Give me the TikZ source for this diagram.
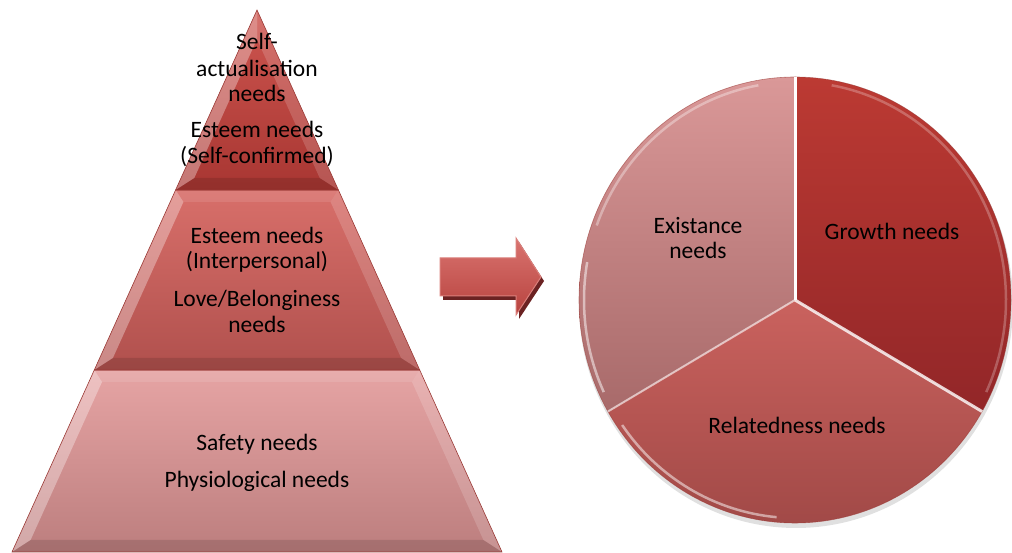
\documentclass[tikz,border=0pt]{standalone}
\usepackage{fontspec}
\setmainfont{Carlito}
\usetikzlibrary{calc}
\definecolor{tA}{HTML}{CE5650}
\definecolor{tB}{HTML}{A83632}
\definecolor{mA}{HTML}{D86F6A}
\definecolor{mB}{HTML}{B0504D}
\definecolor{bA}{HTML}{E6A4A4}
\definecolor{bB}{HTML}{BC7E7E}
\definecolor{eA}{HTML}{DA9898}
\definecolor{eB}{HTML}{A86A6A}
\definecolor{gA}{HTML}{BC3A33}
\definecolor{gB}{HTML}{922628}
\definecolor{rA}{HTML}{CA625E}
\definecolor{rB}{HTML}{9C4644}
\definecolor{arA}{HTML}{D9736F}
\definecolor{arB}{HTML}{B8433F}
\definecolor{arL}{HTML}{DA7F7B}
\definecolor{arS}{HTML}{6B2222}
\definecolor{edge}{HTML}{9A3A36}
\begin{document}
\begin{tikzpicture}[x=1pt,y=1pt,
  lbl/.style={anchor=base, inner sep=0pt, font=\fontsize{23.5}{27}\selectfont, text=black},
  hiL/.style={fill=white, fill opacity=0.33},
  hiR/.style={fill=white, fill opacity=0.16},
  hiT/.style={fill=white, fill opacity=0.10},
  loB/.style={fill=black, fill opacity=0.12},
  rim/.style={draw=edge, line width=0.6pt},
  gap/.style={draw=white, line width=3pt},
  shine/.style={draw=white, line width=2.5pt, draw opacity=0.5}
]
\useasboundingbox (0,0) rectangle (1012,553);

% ---------------- pyramid: bottom layer
\coordinate (Bl) at (94.3,183); \coordinate (Br) at (419.7,183);
\coordinate (Bbl) at (12,1); \coordinate (Bbr) at (502,1);
\coordinate (bl) at (102,171); \coordinate (br) at (412,171);
\coordinate (bbl) at (30.6,13); \coordinate (bbr) at (483.4,13);
\shade[top color=bA, bottom color=bB] (Bl) -- (Br) -- (Bbr) -- (Bbl) -- cycle;
\fill[hiL] (Bl) -- (bl) -- (bbl) -- (Bbl) -- cycle;
\fill[hiR] (Br) -- (br) -- (bbr) -- (Bbr) -- cycle;
\fill[hiT] (Bl) -- (Br) -- (br) -- (bl) -- cycle;
\fill[loB] (Bbl) -- (bbl) -- (bbr) -- (Bbr) -- cycle;
\draw[rim] (Bl) -- (Br) -- (Bbr) -- (Bbl) -- cycle;

% ---------------- pyramid: middle layer
\coordinate (Ml) at (175.6,363); \coordinate (Mr) at (338.4,363);
\coordinate (Mbl) at (94.3,183); \coordinate (Mbr) at (419.7,183);
\coordinate (ml) at (183.4,351); \coordinate (mr) at (330.6,351);
\coordinate (mbl) at (112.9,195); \coordinate (mbr) at (401.1,195);
\shade[top color=mA, bottom color=mB] (Ml) -- (Mr) -- (Mbr) -- (Mbl) -- cycle;
\fill[hiL] (Ml) -- (ml) -- (mbl) -- (Mbl) -- cycle;
\fill[hiR] (Mr) -- (mr) -- (mbr) -- (Mbr) -- cycle;
\fill[hiT] (Ml) -- (Mr) -- (mr) -- (ml) -- cycle;
\fill[loB] (Mbl) -- (mbl) -- (mbr) -- (Mbr) -- cycle;
\draw[rim] (Ml) -- (Mr) -- (Mbr) -- (Mbl) -- cycle;

% ---------------- pyramid: top layer
\coordinate (Ta) at (257,543); \coordinate (Tl) at (175.6,363); \coordinate (Tr) at (338.4,363);
\coordinate (ta) at (257,513.8); \coordinate (tl) at (194.3,375); \coordinate (tr) at (319.7,375);
\shade[top color=tA, bottom color=tB] (Ta) -- (Tr) -- (Tl) -- cycle;
\fill[hiL] (Ta) -- (ta) -- (tl) -- (Tl) -- cycle;
\fill[hiR] (Ta) -- (Tr) -- (tr) -- (ta) -- cycle;
\fill[loB] (Tl) -- (tl) -- (tr) -- (Tr) -- cycle;
\draw[rim] (Ta) -- (Tr) -- (Tl) -- cycle;

% ---------------- arrow
\coordinate (A1) at (440,295); \coordinate (A2) at (516,295);
\coordinate (A3) at (516,315); \coordinate (A4) at (541,276);
\coordinate (A5) at (516,238); \coordinate (A6) at (516,257);
\coordinate (A7) at (440,257);
\fill[arS] ($(A1)+(3,-4)$) -- ($(A2)+(3,-4)$) -- ($(A3)+(3,-4)$) -- ($(A4)+(3,-4)$)
  -- ($(A5)+(3,-4)$) -- ($(A6)+(3,-4)$) -- ($(A7)+(3,-4)$) -- cycle;
\shade[top color=arA, bottom color=arB, draw=arL, line width=1pt]
  (A1) -- (A2) -- (A3) -- (A4) -- (A5) -- (A6) -- (A7) -- cycle;

% ---------------- pie
\coordinate (pc) at (795,253);
\fill[black, opacity=0.12] (796,249) ellipse[x radius=217, y radius=224];
\shade[top color=eA, bottom color=eB] (pc) -- ++(90:216 and 223)
  arc[start angle=90, end angle=210, x radius=216, y radius=223] -- cycle;
\shade[top color=gA, bottom color=gB] (pc) -- ++(90:216 and 223)
  arc[start angle=90, end angle=-30, x radius=216, y radius=223] -- cycle;
\shade[top color=rA, bottom color=rB] (pc) -- ++(-30:216 and 223)
  arc[start angle=-30, end angle=-150, x radius=216, y radius=223] -- cycle;
% bevel shines along the rim
\draw[shine, draw opacity=0.35] ($(pc)+(100:211 and 218)$) arc[start angle=100, end angle=160, x radius=211, y radius=218];
\draw[shine] ($(pc)+(170:211 and 218)$) arc[start angle=170, end angle=205, x radius=211, y radius=218];
\draw[shine] ($(pc)+(215:211 and 218)$) arc[start angle=215, end angle=265, x radius=211, y radius=218];
\draw[shine, draw opacity=0.25] ($(pc)+(80:211 and 218)$) arc[start angle=80, end angle=-25, x radius=211, y radius=218];
\draw[draw=edge, line width=0.6pt, draw opacity=0.6] ($(pc)+(0:216 and 223)$) arc[start angle=0, end angle=360, x radius=216, y radius=223];
% white gaps between slices
\draw[gap] (pc) -- ++(90:216 and 223);
\draw[gap, draw opacity=0.8] (pc) -- ++(-30:216 and 223);
\draw[gap, line width=2pt, draw opacity=0.6] (pc) -- ++(210:216 and 223);

% ---------------- labels
\node[lbl] (s1) at (257,503) {Self-};
\node[lbl] (s2) at (257,476) {actualisation};
\node[lbl] (s3) at (257,451) {needs};
\node[lbl] (s4) at (257,415) {Esteem needs};
\node[lbl] (s5) at (257,389) {(Self-confirmed)};
\node[lbl] (m1) at (257,309) {Esteem needs};
\node[lbl] (m2) at (257,284) {(Interpersonal)};
\node[lbl] (m3) at (257,246) {Love/Belonginess};
\node[lbl] (m4) at (257,220) {needs};
\node[lbl] (b1) at (257,102) {Safety needs};
\node[lbl] (b2) at (257,65) {Physiological needs};
\node[lbl] (e1) at (698,319) {Existance};
\node[lbl] (e2) at (698,294) {needs};
\node[lbl] (g1) at (892,313) {Growth needs};
\node[lbl] (r1) at (797,119) {Relatedness needs};
\end{tikzpicture}
\end{document}
